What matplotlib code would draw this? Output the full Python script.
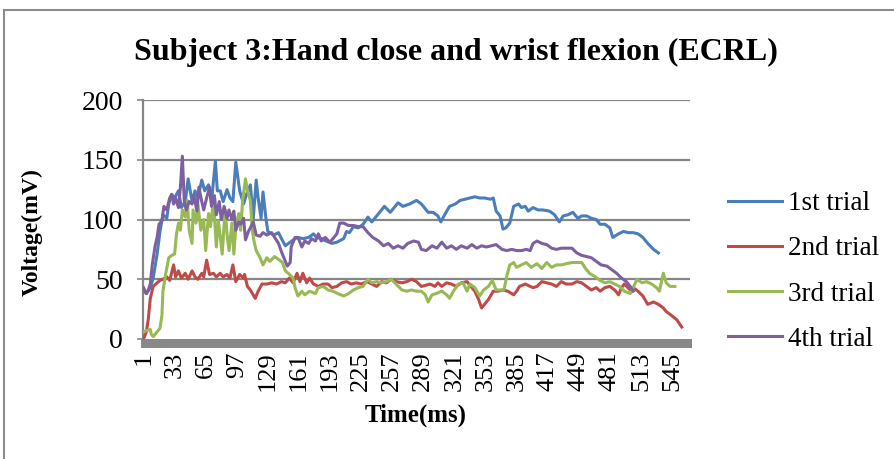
import matplotlib
matplotlib.use("Agg")
import matplotlib.pyplot as plt
from matplotlib.patches import Rectangle

plt.rcParams['font.family'] = ['Liberation Serif', 'DejaVu Serif']

title = "Subject 3:Hand close and wrist flexion (ECRL)"
x_label = "Time(ms)"
y_label = "Voltage(mV)"
series_names = ["1st trial", "2nd trial", "3rd trial", "4th trial"]
series_colors = ["#4A7EBB", "#BE4B48", "#98B954", "#7D60A0"]
n_samples = 563
x_ticks = list(range(1, 546, 32))
y_ticks = [0, 50, 100, 150, 200]

# 1st trial: sample index / voltage (mV)
trial1_t = [1, 4, 8, 11, 15, 18, 21, 25, 27, 30, 33, 37, 40, 44, 47, 51, 54, 57, 61, 64,
            68, 71, 75, 77, 80, 83, 87, 90, 93, 96, 100, 104, 107, 111, 114, 117, 119, 122,
            124, 127, 129, 135, 140, 143, 147, 152, 157, 160, 165, 171, 176, 179, 184, 189,
            195, 200, 207, 210, 213, 217, 222, 227, 232, 236, 241, 246, 249, 255, 260, 263,
            268, 275, 282, 287, 294, 299, 304, 307, 311, 316, 322, 327, 332, 337, 342, 347,
            352, 358, 361, 364, 368, 371, 374, 378, 382, 387, 390, 394, 397, 402, 407, 412,
            419, 424, 429, 433, 438, 443, 448, 452, 457, 462, 467, 471, 476, 481, 484, 490,
            495, 500, 505, 510, 515, 520, 526, 531]
trial1_v = [41, 38, 43, 51, 71, 90, 104, 101, 113, 121, 118, 124, 110, 115, 134, 115, 124, 118, 133, 124,
            129, 115, 149, 124, 124, 115, 125, 118, 115, 148, 124, 113, 121, 129, 101, 133, 118, 101,
            123, 101, 90, 87, 89, 84, 78, 81, 84, 85, 84, 85, 88, 85, 84, 82,
            80, 81, 84, 90, 89, 94, 93, 96, 102, 98, 103, 108, 111, 106, 111, 114,
            111, 113, 116, 113, 106, 106, 103, 98, 104, 111, 113, 116, 117, 118, 119, 118,
            118, 117, 118, 107, 103, 92, 93, 97, 111, 113, 110, 111, 107, 110, 108, 108,
            107, 104, 98, 103, 104, 106, 101, 103, 103, 101, 100, 96, 96, 93, 85, 88,
            90, 89, 89, 88, 85, 80, 75, 72]

# 2nd trial
trial2_t = [1, 4, 6, 8, 11, 15, 18, 21, 25, 28, 32, 34, 37, 40, 44, 47, 51, 54, 57, 61,
            63, 66, 69, 73, 76, 80, 83, 87, 90, 93, 96, 100, 104, 105, 108, 111, 116, 119,
            123, 128, 133, 138, 143, 147, 151, 155, 159, 162, 165, 169, 172, 176, 181, 186,
            191, 195, 200, 205, 210, 215, 220, 225, 231, 236, 241, 246, 251, 256, 261, 267,
            272, 277, 282, 287, 296, 301, 304, 308, 313, 318, 323, 328, 334, 338, 342, 346,
            349, 352, 356, 361, 366, 371, 376, 382, 385, 388, 394, 399, 402, 406, 411, 416,
            421, 426, 431, 436, 442, 447, 452, 457, 462, 467, 471, 476, 481, 486, 490, 493,
            496, 502, 505, 510, 515, 520, 526, 531, 536, 539, 544, 550, 555]
trial2_v = [0, 6, 17, 34, 44, 47, 49, 50, 52, 49, 62, 52, 57, 51, 55, 50, 57, 52, 50, 55,
            52, 66, 54, 55, 52, 55, 52, 54, 51, 62, 48, 54, 51, 54, 44, 41, 34, 40,
            46, 46, 47, 46, 48, 47, 51, 47, 55, 48, 55, 47, 51, 46, 44, 46,
            46, 43, 44, 47, 48, 46, 47, 46, 48, 46, 44, 48, 47, 50, 48, 47,
            48, 50, 48, 44, 46, 44, 47, 44, 47, 46, 44, 47, 48, 44, 40, 33,
            26, 29, 33, 40, 40, 41, 40, 37, 40, 44, 46, 44, 43, 44, 48, 47,
            46, 44, 48, 46, 46, 48, 47, 44, 41, 43, 40, 43, 44, 41, 37, 43,
            46, 41, 43, 40, 36, 29, 31, 29, 26, 23, 20, 16, 10]

# 3rd trial
trial3_t = [1, 4, 8, 9, 11, 15, 18, 20, 21, 24, 27, 30, 33, 35, 37, 39, 41, 44, 46, 48,
            51, 52, 55, 57, 60, 63, 65, 68, 70, 73, 76, 78, 80, 82, 85, 87, 89, 92, 94, 96,
            99, 101, 103, 106, 108, 111, 113, 115, 117, 121, 124, 128, 131, 136, 141, 144,
            147, 150, 155, 157, 160, 164, 167, 172, 178, 181, 186, 191, 196, 201, 207, 212,
            217, 222, 227, 232, 236, 241, 246, 251, 256, 261, 267, 272, 277, 282, 287, 291,
            294, 298, 302, 308, 313, 316, 320, 325, 330, 334, 337, 342, 347, 351, 356, 360,
            364, 368, 372, 375, 378, 382, 385, 390, 395, 400, 406, 411, 416, 421, 426, 431,
            436, 442, 447, 452, 456, 460, 466, 471, 476, 481, 486, 491, 496, 502, 505, 509,
            514, 519, 524, 529, 532, 536, 539, 543, 546, 548]
trial3_v = [6, 7, 8, 4, 2, 6, 9, 20, 40, 55, 68, 70, 71, 88, 97, 91, 108, 102, 116, 91,
            80, 108, 97, 113, 91, 100, 74, 105, 94, 116, 77, 99, 86, 71, 108, 88, 74, 97, 71, 94,
            105, 91, 116, 134, 124, 116, 91, 81, 74, 68, 62, 68, 65, 69, 66, 64,
            57, 55, 51, 43, 36, 40, 37, 40, 38, 43, 44, 41, 40, 38, 36, 38,
            41, 43, 44, 50, 47, 48, 47, 48, 50, 46, 41, 40, 41, 40, 40, 37,
            31, 37, 38, 40, 37, 34, 40, 46, 47, 40, 46, 43, 36, 41, 44, 49,
            41, 41, 41, 53, 62, 64, 60, 62, 64, 60, 63, 59, 64, 60, 62, 62,
            63, 64, 64, 64, 59, 55, 52, 49, 47, 48, 46, 44, 40, 38, 43, 50,
            47, 48, 46, 43, 40, 55, 47, 44, 44, 44]

# 4th trial
trial4_t = [1, 4, 6, 8, 10, 13, 15, 17, 20, 22, 25, 28, 30, 32, 34, 37, 39, 41, 43, 45,
            48, 51, 53, 56, 58, 61, 63, 66, 69, 71, 74, 76, 79, 81, 84, 87, 89, 92, 94, 96,
            99, 101, 104, 106, 109, 111, 114, 117, 121, 124, 128, 133, 136, 140, 143, 147,
            149, 152, 153, 157, 160, 164, 167, 171, 174, 178, 181, 184, 188, 193, 196, 200,
            203, 207, 212, 217, 222, 227, 232, 237, 243, 248, 253, 258, 263, 268, 273, 279,
            284, 287, 292, 298, 303, 308, 313, 318, 323, 328, 334, 339, 344, 349, 354, 359,
            364, 370, 375, 380, 385, 390, 395, 399, 402, 406, 411, 416, 421, 426, 431, 436,
            442, 447, 452, 457, 462, 467, 472, 478, 483, 488, 493, 498, 502, 505]
trial4_v = [43, 38, 41, 46, 62, 78, 85, 96, 99, 111, 108, 118, 121, 113, 118, 110, 127, 153, 115, 108,
            115, 113, 120, 107, 127, 115, 108, 118, 127, 111, 120, 104, 115, 100, 111, 101, 108, 100, 107, 91,
            98, 96, 101, 83, 90, 93, 98, 87, 86, 89, 87, 89, 85, 80, 73, 65,
            61, 64, 77, 85, 85, 77, 82, 80, 84, 82, 88, 82, 85, 81, 84, 88,
            97, 97, 95, 95, 94, 94, 89, 85, 82, 78, 80, 76, 78, 76, 80, 82,
            81, 75, 74, 78, 76, 81, 76, 78, 75, 78, 76, 79, 76, 78, 77, 78,
            79, 75, 74, 75, 74, 74, 75, 74, 80, 82, 80, 79, 76, 75, 76, 76,
            76, 72, 70, 69, 68, 65, 62, 61, 58, 55, 51, 48, 44, 40]

trials = [(trial1_t, trial1_v), (trial2_t, trial2_v), (trial3_t, trial3_v), (trial4_t, trial4_v)]

W, H = 895, 459
fig = plt.figure(figsize=(W / 100, H / 100), dpi=100)

# chart-area border (top and left edges visible)
fig.add_artist(Rectangle((4 / W, -0.1), 1.2, (H - 10) / H + 0.1, transform=fig.transFigure,
                         fill=False, edgecolor="#8c8c8c", linewidth=1.5))

ax = fig.add_axes([143 / W, 1 - 339 / H, 547 / W, 239 / H])
ax.set_xlim(0.5, n_samples + 0.5)
ax.set_ylim(0, 200)

grid_color = "#868686"
for y in y_ticks[1:]:
    ax.axhline(y, color=grid_color, linewidth=1.6, zorder=1)

for (t, v), name, c in zip(trials, series_names, series_colors):
    ax.plot(t, v, color=c, linewidth=2.2, label=name, zorder=3, solid_joinstyle="round")

# heavy horizontal category axis
ax.add_patch(Rectangle((-0.004, -9 / 239), 1.008, 9 / 239, transform=ax.transAxes,
                       clip_on=False, facecolor="#888888", edgecolor="none", zorder=2))

for s in ["top", "right", "bottom"]:
    ax.spines[s].set_visible(False)
ax.spines["left"].set_color(grid_color)
ax.spines["left"].set_linewidth(1.6)

ax.set_yticks(y_ticks)
ax.set_yticklabels([str(y) for y in y_ticks], fontsize=20)
ax.tick_params(axis="y", direction="out", length=4.5, width=1.2, color=grid_color, pad=10)
ax.set_xticks(x_ticks)
ax.set_xticklabels([str(x) for x in x_ticks], rotation=90, fontsize=19)
ax.tick_params(axis="x", length=0, pad=9)

fig.text(456 / W, 1 - 52 / H, title, ha="center", va="center", fontsize=23, fontweight="bold")
fig.text(32 / W, 1 - 232 / H, y_label, ha="center", va="center", rotation=90,
         fontsize=17, fontweight="bold")
fig.text(416 / W, 1 - 415 / H, x_label, ha="center", va="center", fontsize=18, fontweight="bold")

fig.legend(loc="upper left", bbox_to_anchor=(728 / W, 1 - 191 / H), frameon=False,
           fontsize=19.5, handlelength=2.0, handletextpad=0.2, labelspacing=0.75,
           borderaxespad=0, borderpad=0)

fig.savefig("out.png", dpi=100)
